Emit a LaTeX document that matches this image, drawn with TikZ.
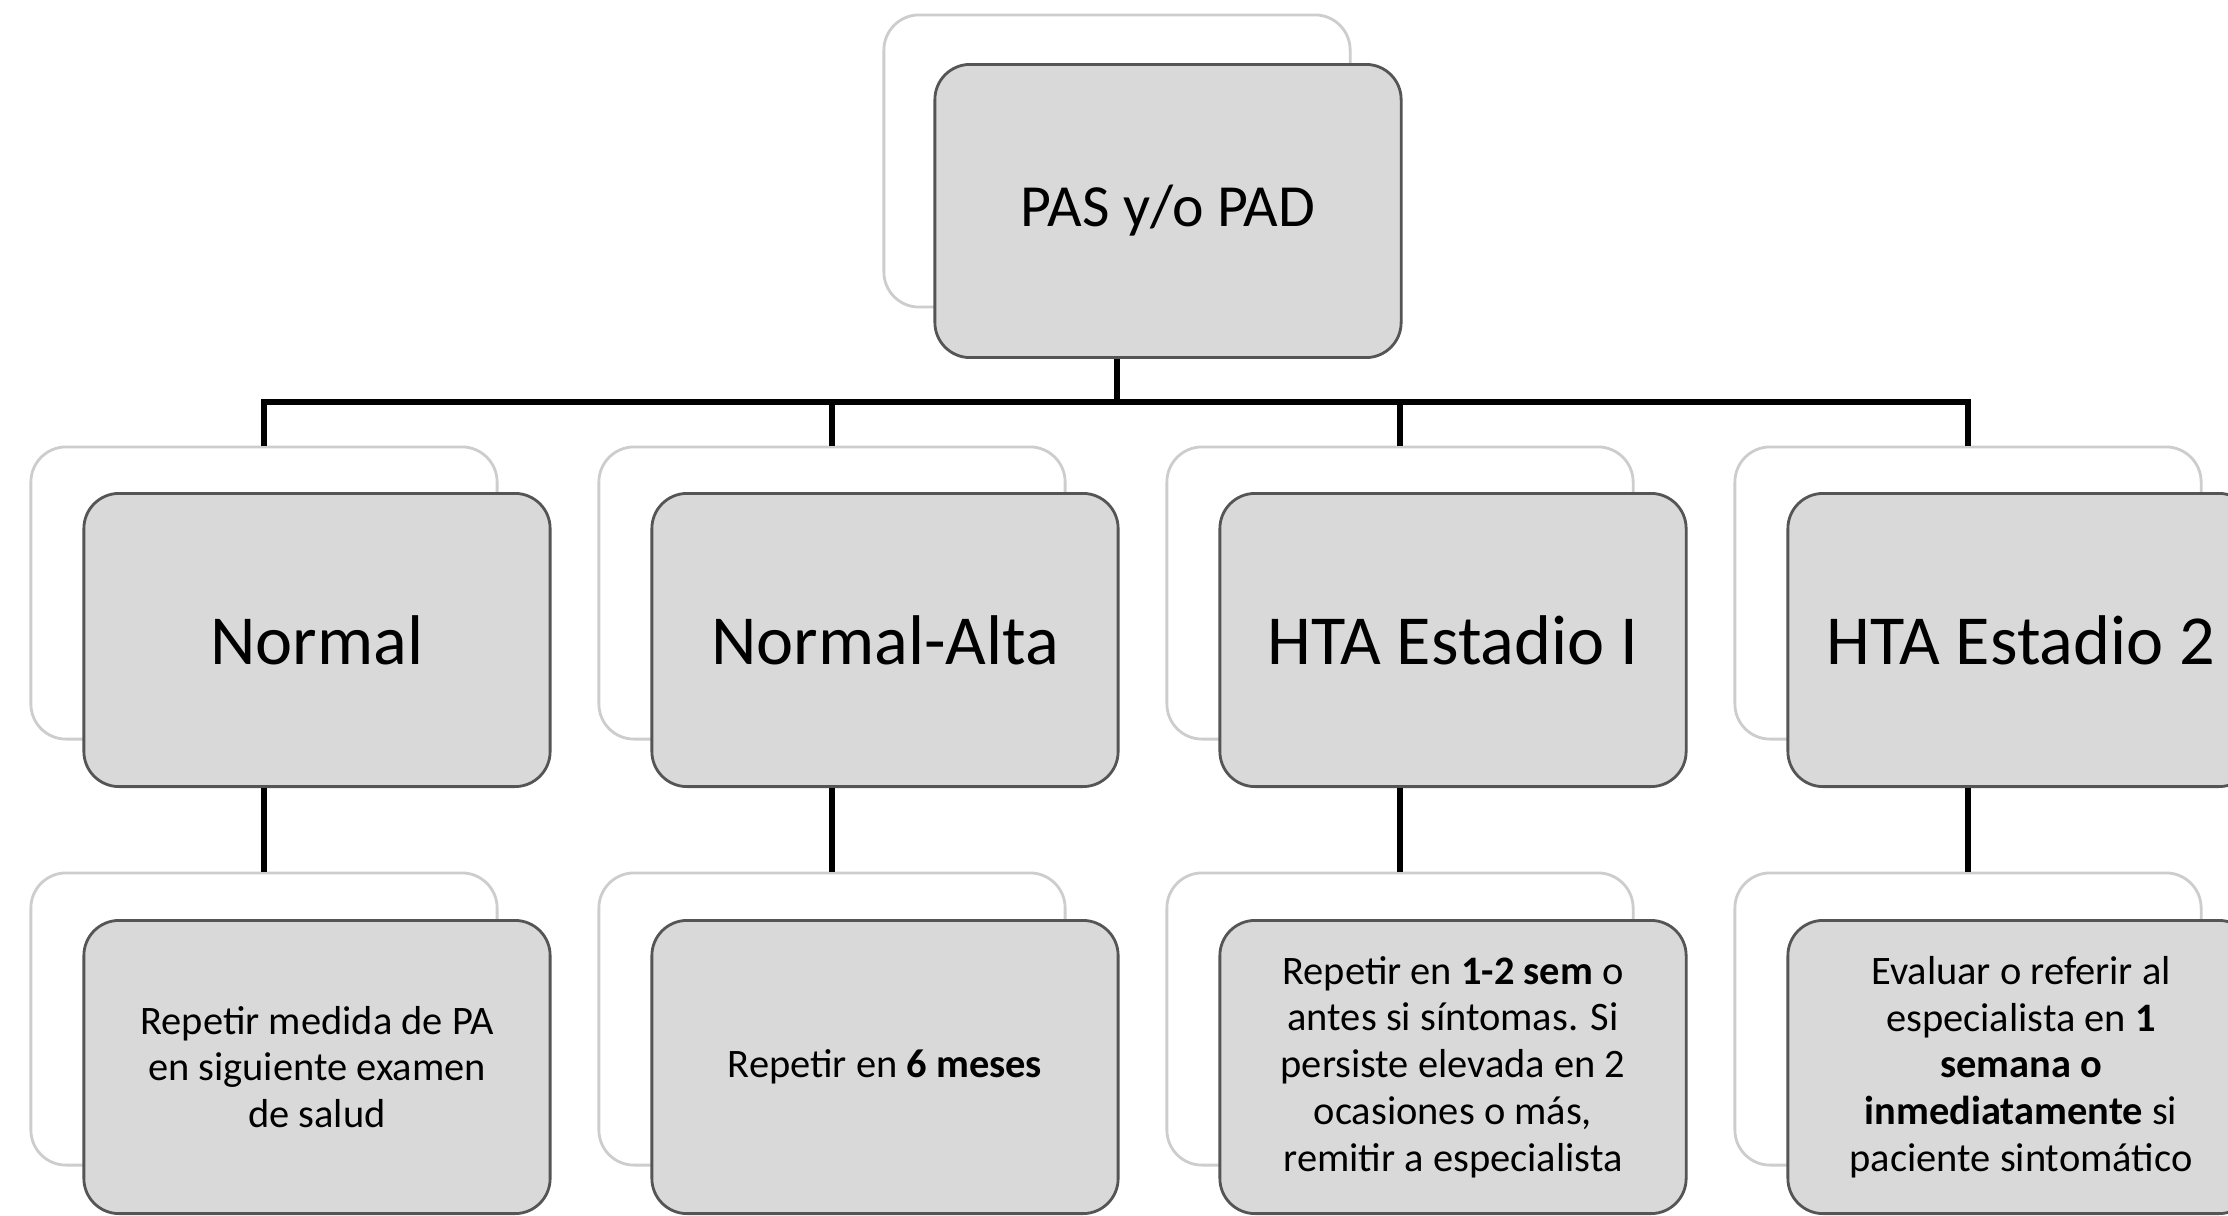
\documentclass[tikz,border=0pt]{standalone}
\usepackage{fontspec}
\setmainfont{Carlito}

\definecolor{cardfill}{RGB}{217,217,217}
\definecolor{cardline}{RGB}{85,85,85}
\definecolor{ghostline}{RGB}{205,205,205}

\begin{document}
\begin{tikzpicture}
   [x=0.01cm,y=-0.01cm,
    ghost/.style={rectangle, rounded corners=10pt, draw=ghostline, line width=0.8pt, fill=white, minimum width=4.66cm, minimum height=2.92cm, inner sep=0pt},
    card/.style={rectangle, rounded corners=10pt, draw=cardline, line width=0.8pt, fill=cardfill, minimum width=4.66cm, minimum height=2.93cm, inner sep=0pt, align=center},
    conn/.style={line width=1.8pt, black}]

  \useasboundingbox (0,0) rectangle (2228,1215);

  \node[ghost] (b0) at (1117,161) {};
  \node[card, font=\fontsize{17}{20}\selectfont] (n0) at (1168,211) {\raisebox{-2pt}{PAS y/o PAD}};

  \node[ghost] (b1) at (264,593)  {};
  \node[ghost] (b2) at (832,593)  {};
  \node[ghost] (b3) at (1400,593) {};
  \node[ghost] (b4) at (1968,593) {};
  \node[card, font=\fontsize{20}{24}\selectfont] (n1) at (317,640)  {Normal};
  \node[card, font=\fontsize{20}{24}\selectfont] (n2) at (885,640)  {Normal-Alta};
  \node[card, font=\fontsize{20}{24}\selectfont] (n3) at (1453,640) {HTA Estadio I};
  \node[card, font=\fontsize{20}{24}\selectfont] (n4) at (2021,640) {HTA Estadio 2};

  \node[ghost] (c1) at (264,1019)  {};
  \node[ghost] (c2) at (832,1019)  {};
  \node[ghost] (c3) at (1400,1019) {};
  \node[ghost] (c4) at (1968,1019) {};
  \node[card, font=\fontsize{11.5}{13.3}\selectfont] (m1) at (317,1067)
     {Repetir medida de PA\\en siguiente examen\\de salud};
  \node[card, font=\fontsize{11.5}{13.3}\selectfont] (m2) at (885,1067)
     {Repetir en \textbf{6 meses}};
  \node[card, font=\fontsize{11.5}{13.3}\selectfont] (m3) at (1453,1067)
     {Repetir en \textbf{1-2 sem} o\\antes si síntomas. Si\\persiste elevada en 2\\ocasiones o más,\\remitir a especialista};
  \node[card, font=\fontsize{11.5}{13.3}\selectfont] (m4) at (2021,1067)
     {Evaluar o referir al\\especialista en \textbf{1}\\\textbf{semana o}\\\textbf{inmediatamente} si\\paciente sintomático};

  \coordinate (bus) at (0,402);

  \draw[conn] (b0 |- n0.south) -- (b0 |- bus);
  \draw[conn] (b1.north) |- (b0 |- bus) -| (b4.north);

  \foreach \i in {2,3}
    \draw[conn] (b\i |- bus) -- (b\i.north);

  \foreach \i in {1,...,4}
    \draw[conn] (b\i |- n\i.south) -- (c\i.north);

\end{tikzpicture}
\end{document}
